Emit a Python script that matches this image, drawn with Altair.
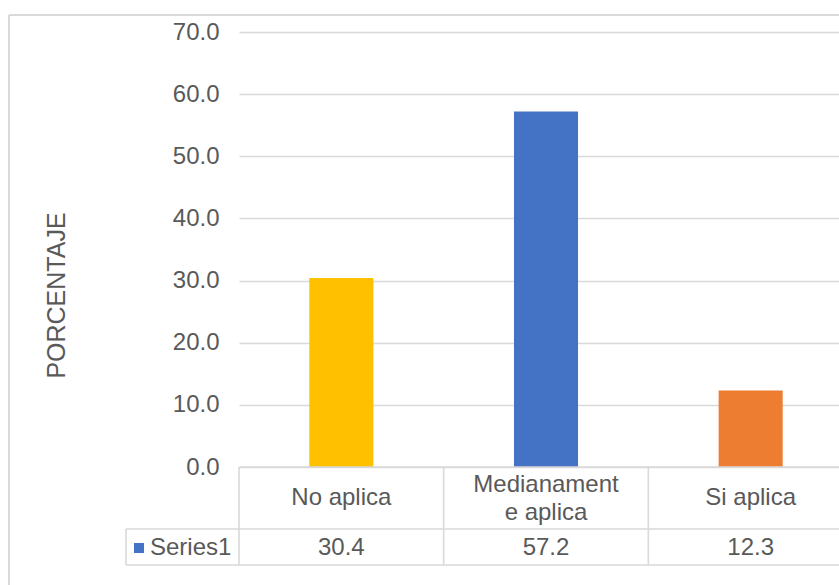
import altair as alt
import pandas as pd

categories = ["No aplica", "Medianamente aplica", "Si aplica"]
header_labels = ["No aplica", "Medianament\ne aplica", "Si aplica"]
values = [30.4, 57.2, 12.3]
bar_colors = ["#FFC000", "#4472C4", "#ED7D31"]
series_name = "Series1"
series_color = "#4472C4"
y_ticks = [0, 10, 20, 30, 40, 50, 60, 70]
y_title = "PORCENTAJE"

FONT = "Liberation Sans"
FS = 24
TXT = "#595959"
LINE = "#D9D9D9"
W, H = 600, 435

df = pd.DataFrame({
    "cat": categories,
    "label": header_labels,
    "value": values,
    "vtext": [f"{v:.1f}" for v in values],
})

xscale = alt.Scale(domain=categories, range=[0, 614], paddingInner=0, paddingOuter=0)
xenc = alt.X("cat:N", scale=xscale, sort=categories, axis=None)
xmid = alt.X("cat:N", scale=xscale, sort=categories, axis=None, bandPosition=0.5)

base = alt.Chart(df)

bars = base.mark_bar(width={"band": 0.313}).encode(
    x=xenc,
    y=alt.Y("value:Q", scale=alt.Scale(domain=[0, 70], nice=False),
            axis=alt.Axis(values=y_ticks, format=".1f", title=y_title,
                          domain=False, ticks=False, labelPadding=20,
                          labelFontSize=FS, labelColor=TXT, labelFont=FONT,
                          grid=True, gridColor=LINE, gridWidth=1.3,
                          titleFontSize=25, titleFont=FONT, titleColor=TXT,
                          titleFontWeight="normal", titleAngle=270,
                          titleX=-175, titleY=263, titleAlign="center",
                          titleBaseline="alphabetic")),
    color=alt.Color("cat:N", scale=alt.Scale(domain=categories, range=bar_colors), legend=None),
)

one = alt.Data(values=[{"a": 1}])

# table vertical lines at category boundaries
vlines = base.mark_rule(color=LINE, strokeWidth=1.6).encode(
    x=alt.X("cat:N", scale=xscale, sort=categories, axis=None, bandPosition=0),
    y=alt.value(H),
    y2=alt.value(H + 98),
)

hl_top = alt.Chart(one).mark_rule(color=LINE, strokeWidth=1.6).encode(
    x=alt.value(0), x2=alt.value(W), y=alt.value(H))
hl_mid = alt.Chart(one).mark_rule(color=LINE, strokeWidth=1.6).encode(
    x=alt.value(-113), x2=alt.value(W), y=alt.value(H + 62))
hl_bot = alt.Chart(one).mark_rule(color=LINE, strokeWidth=1.6).encode(
    x=alt.value(-113), x2=alt.value(W), y=alt.value(H + 98))
vl_left = alt.Chart(one).mark_rule(color=LINE, strokeWidth=1.6).encode(
    x=alt.value(-113), y=alt.value(H + 62), y2=alt.value(H + 98))

# chart area border
border_left = alt.Chart(one).mark_rule(color=LINE, strokeWidth=2).encode(
    x=alt.value(-230), y=alt.value(-17), y2=alt.value(H + 200))
border_top = alt.Chart(one).mark_rule(color=LINE, strokeWidth=2).encode(
    x=alt.value(-230), x2=alt.value(W), y=alt.value(-17))

headers_single = base.transform_filter(
    "indexof(datum.label, '\\n') < 0"
).mark_text(font=FONT, fontSize=FS, color=TXT, baseline="middle", align="center").encode(
    x=xmid, y=alt.value(H + 31), text="label:N",
)

headers_multi = base.transform_filter(
    "indexof(datum.label, '\\n') >= 0"
).mark_text(font=FONT, fontSize=FS, color=TXT, baseline="middle", align="center",
            lineBreak="\n", lineHeight=28).encode(
    x=xmid, y=alt.value(H + 18), text="label:N",
)

vals = base.mark_text(font=FONT, fontSize=FS, color=TXT, baseline="middle",
                      align="center").encode(
    x=xmid, y=alt.value(H + 81), text="vtext:N",
)

series_lbl = alt.Chart(alt.Data(values=[{"s": series_name}])).mark_text(
    font=FONT, fontSize=FS, color=TXT, baseline="middle", align="left").encode(
    x=alt.value(-89), y=alt.value(H + 81), text="s:N")

series_sq = alt.Chart(alt.Data(values=[{"s": series_name}])).mark_square(
    size=100, color=series_color, opacity=1, filled=True).encode(
    x=alt.value(-100), y=alt.value(H + 81))

chart = alt.layer(
    bars, vlines, hl_top, hl_mid, hl_bot, vl_left, border_left, border_top,
    headers_single, headers_multi, vals, series_lbl, series_sq,
).properties(
    width=W, height=H,
    autosize=alt.AutoSizeParams(type="none"),
    padding={"left": 239, "top": 32, "right": 0, "bottom": 118},
    background="white",
).configure_view(stroke=None)

chart.save("out.html", embed_options={"renderer": "svg", "actions": False})
